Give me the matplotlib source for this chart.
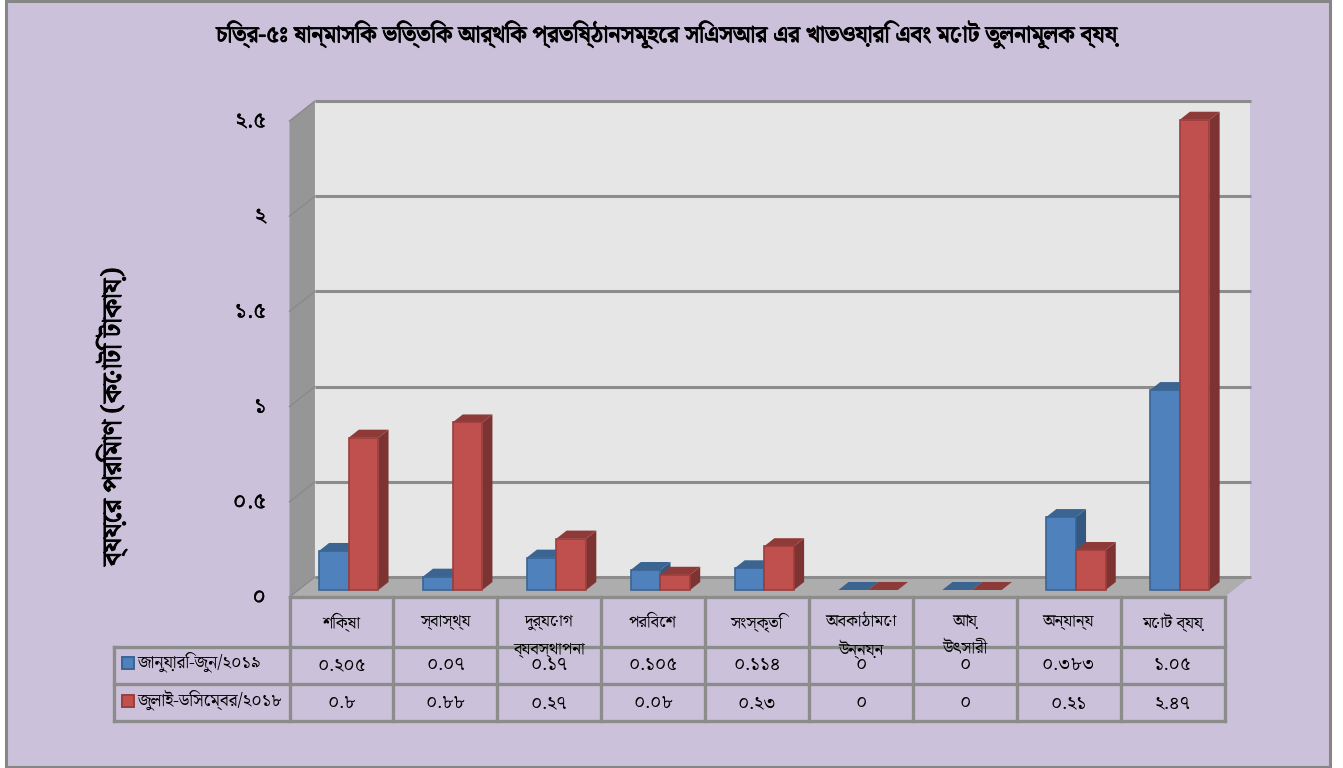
import matplotlib
matplotlib.use('Agg')
import matplotlib.pyplot as plt
import matplotlib.patheffects as pe
from matplotlib.patches import Polygon, Rectangle
from matplotlib.transforms import ScaledTranslation

BN = ['Noto Serif Bengali', 'DejaVu Sans']
plt.rcParams['font.family'] = BN

title = "চিত্র-৫ঃ ষান্মাসিক ভিত্তিক আর্থিক প্রতিষ্ঠানসমূহের সিএসআর এর খাতওয়ারি এবং মোট তুলনামূলক ব্যয়"
ylabel = "ব্যয়ের পরিমাণ (কোটি টাকায়)"
categories = ["শিক্ষা", "স্বাস্থ্য", "দুর্যোগ\nব্যবস্থাপনা", "পরিবেশ", "সংস্কৃতি",
              "অবকাঠামো\nউন্নয়ন", "আয়\nউৎসারী", "অন্যান্য", "মোট ব্যয়"]
series_names = ["জানুয়ারি-জুন/২০১৯", "জুলাই-ডিসেম্বর/২০১৮"]
jan_jun = [0.205, 0.07, 0.17, 0.105, 0.114, 0, 0, 0.383, 1.05]
jul_dec = [0.8, 0.88, 0.27, 0.08, 0.23, 0, 0, 0.21, 2.47]
yticks = [0, 0.5, 1, 1.5, 2, 2.5]
ytick_labels = ["০", "০.৫", "১", "১.৫", "২", "২.৫"]

BN_DIGITS = str.maketrans("0123456789", "০১২৩৪৫৬৭৮৯")
def bn(v):
    return f"{v:g}".translate(BN_DIGITS)

W, H = 1343, 768
BG = '#CCC1DA'; GRID = '#8C8C8C'
fig = plt.figure(figsize=(W/100, H/100), dpi=100, facecolor='white')
fig.add_artist(Rectangle((5.5/W, 1.5/H), (1329.5-5.5)/W, (H-1.5-0.5)/H, transform=fig.transFigure,
                         facecolor=BG, edgecolor='#868686', lw=2.2, zorder=-5))

# axes = front plane of the 3D box
L, R, Y0, Y1 = 289.5, 1224.5, 597, 121
ax = fig.add_axes([L/W, 1-Y0/H, (R-L)/W, (Y0-Y1)/H])
n = len(categories)
ax.set_xlim(0, n); ax.set_ylim(0, 2.5)
ax.patch.set_visible(False)
for s in ax.spines.values():
    s.set_visible(False)
ax.set_xticks([])
ax.set_yticks(yticks, ytick_labels, fontsize=16, color='black')
ax.tick_params(axis='y', length=0, pad=17)
shift_up = ScaledTranslation(0, 2/100, fig.dpi_scale_trans)
for lab in ax.get_yticklabels():
    lab.set_path_effects([pe.withStroke(linewidth=0.2, foreground='black')])
    lab.set_transform(lab.get_transform() + shift_up)

PX_X = n/(R-L); PX_Y = 2.5/(Y0-Y1)
def P(x, y, d):
    return (x + d*1.27*PX_X, y + d*PX_Y)
def poly(pts, fc, ec='none', lw=0, z=1):
    ax.add_patch(Polygon(pts, closed=True, facecolor=fc, edgecolor=ec, lw=lw, zorder=z, clip_on=False))

WALL = 20
poly([P(0, 0, WALL), P(n, 0, WALL), P(n, 2.5, WALL), P(0, 2.5, WALL)], '#E6E6E6', z=1)
poly([P(0, 0, 0), P(n, 0, 0), P(n, 0, WALL), P(0, 0, WALL)], '#ADADAD', z=1)
poly([P(0, 0, 0), P(0, 0, WALL), P(0, 2.5, WALL), P(0, 2.5, 0)], '#969696', z=1)
for t in yticks:
    ax.plot(*zip(P(0, t, WALL), P(n+0.012, t, WALL)), color=GRID, lw=2.2, zorder=2, clip_on=False,
            solid_capstyle='butt')
    ax.plot(*zip(P(0, t, 0), P(0, t, WALL)), color='#8A8A8A', lw=1, zorder=2, clip_on=False)

# 3D bars
D0, D1 = 7, 15
BW = 0.286; START = 0.198
def bar(x, v, front, edge, side, top, z):
    if v > 0:
        poly([P(x+BW, 0, D0), P(x+BW, 0, D1), P(x+BW, v, D1), P(x+BW, v, D0)], side, z=z)
    poly([P(x, v, D0), P(x+BW, v, D0), P(x+BW, v, D1), P(x, v, D1)], top, z=z)
    if v > 0:
        poly([P(x, 0, D0), P(x+BW, 0, D0), P(x+BW, v, D0), P(x, v, D0)], front, ec=edge, lw=1.2, z=z+0.1)

BLUE = dict(front='#4F81BD', edge='#3A6493', side='#34587F', top='#3B6491')
RED = dict(front='#C0504D', edge='#9A3F3D', side='#7D3331', top='#8E3A38')
for i, (a, b) in enumerate(zip(jan_jun, jul_dec)):
    bar(i+START, a, z=3+i*0.01, **BLUE)
    bar(i+START+BW, b, z=3.5+i*0.01, **RED)

# data table (below the axis, same x scale)
def ypx(p):
    return (Y0-p)*PX_Y
TBL_LEFT = (114-L)*PX_X
rows = [ypx(646.5), ypx(683.5), ypx(720.5)]
kw = dict(color=GRID, lw=2.4, clip_on=False, zorder=5, solid_capstyle='projecting')
for i in range(n+1):
    ax.plot([i, i], [0, rows[-1]], **kw)
ax.plot([0, n], [0, 0], **kw)
for r in rows:
    ax.plot([TBL_LEFT, n], [r, r], **kw)
ax.plot([TBL_LEFT, TBL_LEFT], [rows[0], rows[-1]], **kw)

for i, c in enumerate(categories):
    ax.text(i+0.5, ypx(622), c.split("\n")[0], ha='center', va='center', fontsize=12, zorder=6, clip_on=False)
    if "\n" in c:
        ax.text(i+0.5, ypx(649), c.split("\n")[1], ha='center', va='center', fontsize=12, zorder=6, clip_on=False)
    ax.text(i+0.5, ypx(665), bn(jan_jun[i]), ha='center', va='center', fontsize=13.5, zorder=6, clip_on=False)
    ax.text(i+0.5, ypx(703), bn(jul_dec[i]), ha='center', va='center', fontsize=13.5, zorder=6, clip_on=False)

for name, py, st in zip(series_names, [663, 701], [BLUE, RED]):
    ax.add_patch(Rectangle(((122-L)*PX_X, ypx(py+6)), 12*PX_X, 12*PX_Y, facecolor=st['front'],
                           edgecolor=st['edge'], lw=1.4, clip_on=False, zorder=6))
    ax.text((138-L)*PX_X, ypx(py-1), name, ha='left', va='center', fontsize=12.5, zorder=6, clip_on=False)

bold = [pe.withStroke(linewidth=0.7, foreground='black')]
fig.text(667/W, 1-35/H, title, ha='center', va='center', fontsize=16.7, path_effects=bold)
fig.text(112/W, 1-417/H, ylabel, ha='center', va='center', rotation=90, fontsize=19.4, path_effects=bold)
fig.savefig('out.png', dpi=100, facecolor=fig.get_facecolor())
